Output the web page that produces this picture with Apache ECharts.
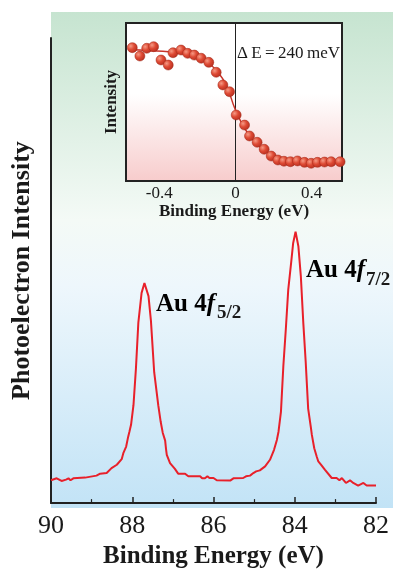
<!DOCTYPE html>
<html><head><meta charset="utf-8">
<script src="https://cdn.jsdelivr.net/npm/echarts@6/dist/echarts.min.js"></script>
<style>html,body{margin:0;padding:0;background:#fff}#c{width:393px;height:574px}</style>
</head><body><div id="c"></div>
<script>
// ---- main XPS spectrum (Au 4f) ----
const mainEnergy = [90.00,89.86,89.74,89.63,89.57,89.52,89.45,89.16,89.12,88.88,
  88.79,88.63,88.51,88.38,88.26,88.22,88.15,88.10,88.07,88.03,
  87.97,87.91,87.85,87.77,87.70,87.60,87.54,87.46,87.36,87.30,
  87.25,87.19,87.17,87.15,87.07,86.95,86.87,86.70,86.62,86.33,
  86.28,86.21,86.15,86.10,86.00,85.92,85.59,85.51,85.27,85.20,
  85.10,85.02,84.95,84.86,84.73,84.61,84.51,84.44,84.40,84.34,
  84.28,84.22,84.16,84.09,84.04,83.98,83.91,83.85,83.79,83.73,
  83.67,83.60,83.58,83.52,83.46,83.42,83.35,83.26,83.09,82.97,
  82.90,82.84,82.74,82.64,82.56,82.44,82.31,82.23,82.00];
const mainIntensity = [23,25,22.3,23.7,25,23,25,25.7,27,27.7,
  29.7,30.3,35.3,38.7,44.3,50.3,57,67,72,79,
  98.7,135.3,182,212,222,208.7,183.7,132,98.7,82,
  71,63,55,48.7,40.3,34.5,29.7,29.7,27,27,
  25,25,27,25.3,25.3,23,22.7,25,25.3,27,
  27.7,30.3,32,33,37,43.7,53.7,63.7,72,92,
  138.7,175.3,215.3,242,262,273.7,258.7,228.7,182,142,
  95.3,75.3,69,55.3,47,42,38.5,33.7,25.3,25.3,
  23,25.3,20.3,23,20.3,17.7,20.3,17.7,17.7];
const mainTicks = [90,88,86,84,82];

// ---- inset: Fermi edge ----
const insetEnergy = [-0.542,-0.502,-0.466,-0.430,-0.391,-0.353,-0.328,-0.286,-0.251,-0.216,
  -0.180,-0.140,-0.101,-0.066,-0.031,0.004,0.048,0.074,0.114,0.151,
  0.188,0.223,0.255,0.289,0.326,0.363,0.398,0.431,0.468,0.503,0.550];
const insetIntensity = [0.844,0.791,0.840,0.850,0.766,0.734,0.812,0.829,0.808,0.797,
  0.777,0.751,0.688,0.608,0.565,0.418,0.354,0.285,0.245,0.201,
  0.158,0.133,0.125,0.122,0.127,0.118,0.112,0.118,0.120,0.122,0.122];
const fitEnergy = [-0.55,-0.45,-0.35,-0.25,-0.20,-0.15,-0.10,-0.05,0.00,0.05,0.10,0.15,0.20,0.25,0.30,0.40,0.55];
const fitIntensity = [0.83,0.825,0.818,0.80,0.785,0.755,0.70,0.61,0.45,0.33,0.25,0.195,0.155,0.13,0.122,0.118,0.12];
const insetTicks = [-0.4,0,0.4];

// ---- peak labels ----
const peakLabels = ['5/2','7/2'];

const SERIF = '"Liberation Serif","Times New Roman",serif';
const zip = (a,b)=>a.map((v,i)=>[v,b[i]]);

const chart = echarts.init(document.getElementById('c'));
const labelRich = {
  a:{fontFamily:SERIF,fontWeight:'bold',fontSize:25,color:'#1a1a1a'},
  i:{fontFamily:SERIF,fontWeight:'bold',fontStyle:'italic',fontSize:25,color:'#1a1a1a'}
};
const subStyle = t=>({text:t,fontFamily:SERIF,fontWeight:'bold',fontSize:19,fill:'#1a1a1a'});
chart.setOption({
  animation:false,
  backgroundColor:'#ffffff',
  graphic:[
    {type:'rect',z:-1,silent:true,shape:{x:51,y:12,width:342,height:496},
     style:{fill:new echarts.graphic.LinearGradient(0,0,0,1,[
       {offset:0,color:'#c6e4d0'},{offset:0.42,color:'#f4faf6'},
       {offset:0.55,color:'#eef7fc'},{offset:1,color:'#c2e3f6'}])}},
    {type:'rect',z:1,silent:true,shape:{x:126,y:23,width:216,height:158},
     style:{fill:new echarts.graphic.LinearGradient(0,0,0,1,[
       {offset:0,color:'#ffffff'},{offset:0.45,color:'#ffffff'},{offset:1,color:'#f7cccc'}])}},
    {type:'text',z:10,left:156,top:292,style:{text:'{a|Au 4}{i|f}',rich:labelRich}},
    {type:'text',z:10,left:217,top:304,style:subStyle(peakLabels[0])},
    {type:'text',z:10,left:306,top:258,style:{text:'{a|Au 4}{i|f}',rich:labelRich}},
    {type:'text',z:10,left:366,top:271,style:subStyle(peakLabels[1])},
    {type:'text',z:10,left:237,top:45,style:{text:'\u0394\u2009E\u2009=\u2009240\u2009meV',
      fontFamily:SERIF,fontSize:17,fill:'#1a1a1a'}}
  ],
  grid:[
    {left:51,right:17,top:38,bottom:67},
    {left:126,right:51,top:23,bottom:393,show:true,borderColor:'#222',borderWidth:2,backgroundColor:'transparent',z:3}
  ],
  xAxis:[
    {gridIndex:0,type:'value',min:82,max:90,interval:2,inverse:true,
     axisLine:{lineStyle:{color:'#222',width:2}},
     axisTick:{show:true,inside:true,length:6,lineStyle:{color:'#222',width:1.5}},
     minorTick:{show:true,splitNumber:2,length:4,lineStyle:{color:'#222',width:1.2}},
     splitLine:{show:false},
     axisLabel:{fontFamily:SERIF,fontSize:26,color:'#1a1a1a',margin:10},
     name:'Binding Energy (eV)',nameLocation:'middle',nameGap:40,
     nameTextStyle:{fontFamily:SERIF,fontWeight:'bold',fontSize:25,color:'#1a1a1a'}},
    {gridIndex:1,type:'value',min:-0.575,max:0.56,z:4,
     axisLine:{show:false},axisTick:{show:false},splitLine:{show:false},
     axisLabel:{customValues:insetTicks,fontFamily:SERIF,fontSize:17,color:'#1a1a1a',margin:4,
       formatter:v=>v===0?'0':(v<0?'-':'')+Math.abs(v).toFixed(1)},
     name:'Binding Energy (eV)',nameLocation:'middle',nameGap:18,
     nameTextStyle:{fontFamily:SERIF,fontWeight:'bold',fontSize:17,color:'#1a1a1a'}}
  ],
  yAxis:[
    {gridIndex:0,type:'value',min:0,max:469,
     axisLine:{show:true,lineStyle:{color:'#222',width:2}},
     axisTick:{show:false},axisLabel:{show:false},splitLine:{show:false},
     name:'Photoelectron Intensity',nameLocation:'middle',nameGap:16,nameRotate:90,
     nameTextStyle:{fontFamily:SERIF,fontWeight:'bold',fontSize:26,color:'#1a1a1a'}},
    {gridIndex:1,type:'value',min:0,max:1,z:4,
     axisLine:{show:false},axisTick:{show:false},axisLabel:{show:false},splitLine:{show:false},
     name:'Intensity',nameLocation:'middle',nameGap:6,nameRotate:90,
     nameTextStyle:{fontFamily:SERIF,fontWeight:'bold',fontSize:17,color:'#1a1a1a'}}
  ],
  series:[
    {type:'line',xAxisIndex:0,yAxisIndex:0,data:zip(mainEnergy,mainIntensity),
     symbol:'none',lineStyle:{color:'#e8202a',width:2},z:2},
    {type:'line',xAxisIndex:1,yAxisIndex:1,data:zip(fitEnergy,fitIntensity),
     symbol:'none',smooth:true,lineStyle:{color:'#c8342a',width:1.5},z:5,
     markLine:{silent:true,symbol:'none',label:{show:false},
       lineStyle:{color:'#222',width:1,type:'solid'},data:[{xAxis:0}]}},
    {type:'scatter',xAxisIndex:1,yAxisIndex:1,data:zip(insetEnergy,insetIntensity),
     symbolSize:10,clip:false,z:6,
     itemStyle:{color:new echarts.graphic.RadialGradient(0.35,0.35,0.75,[
       {offset:0,color:'#f59a85'},{offset:0.45,color:'#de4a34'},{offset:1,color:'#b02a1c'}]),
       borderColor:'#a02818',borderWidth:0.5,opacity:1}}
  ]
});
</script></body></html>
